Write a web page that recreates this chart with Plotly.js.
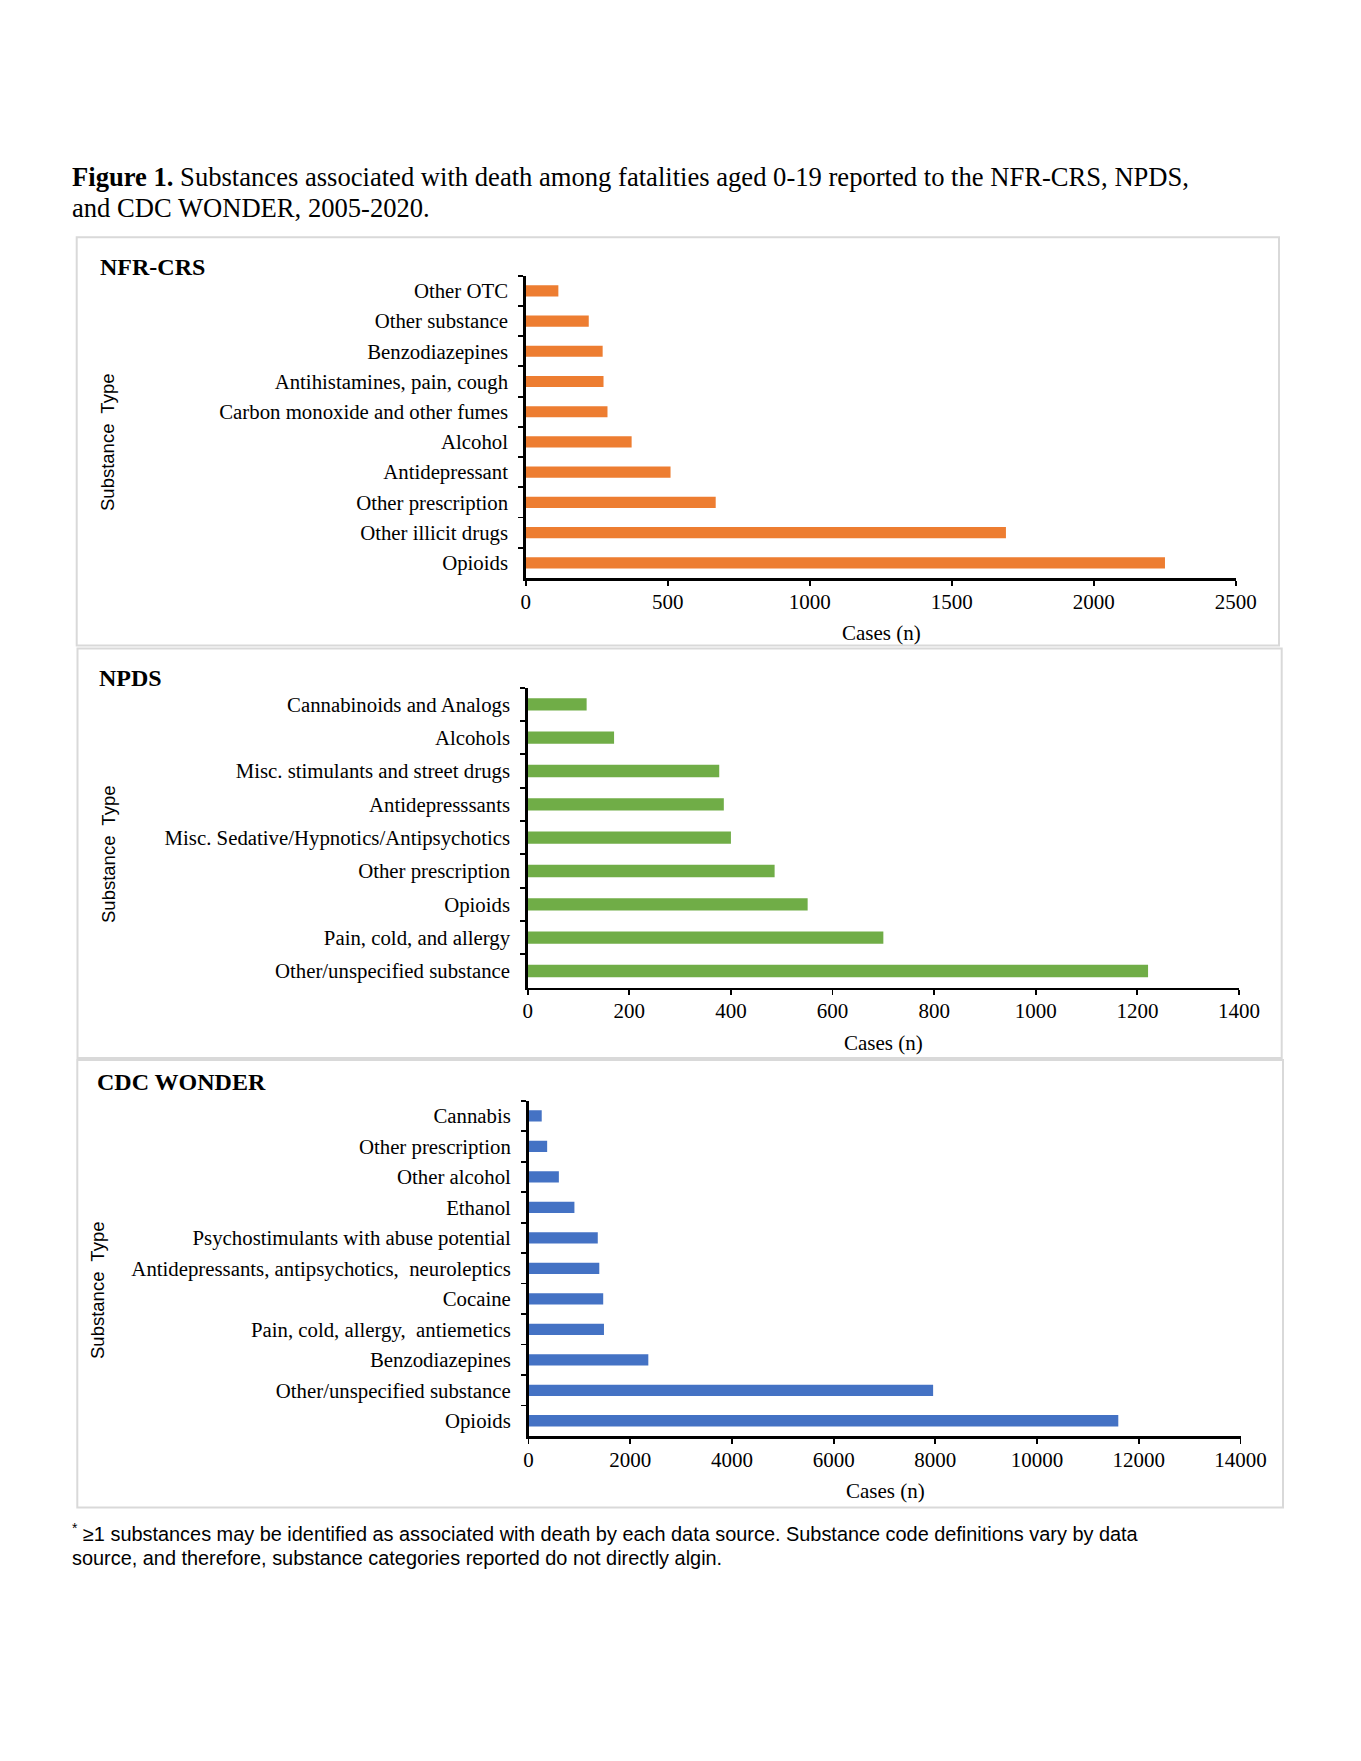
<!DOCTYPE html>
<html>
<head>
<meta charset="utf-8">
<script src="https://cdn.plot.ly/plotly-3.0.1.min.js"></script>
<style>
html,body{margin:0;padding:0;background:#fff;}
#chart{width:1361px;height:1761px;}
</style>
</head>
<body>
<div id="chart"></div>
<script>
// ---- Data ----
const nfrCategories = ["Other OTC","Other substance","Benzodiazepines","Antihistamines, pain, cough","Carbon monoxide and other fumes","Alcohol","Antidepressant","Other prescription","Other illicit drugs","Opioids"];
const nfrCases = [115,222,271,274,288,373,510,669,1691,2251];

const npdsCategories = ["Cannabinoids and Analogs","Alcohols","Misc. stimulants and street drugs","Antidepresssants","Misc. Sedative/Hypnotics/Antipsychotics","Other prescription","Opioids","Pain, cold, and allergy","Other/unspecified substance"];
const npdsCases = [116,170,377,386,400,486,551,700,1221];

const cdcCategories = ["Cannabis","Other prescription","Other alcohol","Ethanol","Psychostimulants with abuse potential","Antidepressants, antipsychotics,\u00a0 neuroleptics","Cocaine","Pain, cold, allergy,\u00a0 antiemetics","Benzodiazepines","Other/unspecified substance","Opioids"];
const cdcCases = [260,367,597,903,1362,1392,1469,1484,2356,7956,11597];

const panelTitles = ["NFR-CRS","NPDS","CDC WONDER"];
const xTitle = "Cases (n)";
const yTitle = "Substance\u00a0 Type";

// ---- Layout helpers ----
const W = 1361, H = 1761;
const px = x => x / W;
const py = y => 1 - y / H;
const serif = "Liberation Serif, Times New Roman, serif";
const sans = "Liberation Sans, Arial, sans-serif";

const traces = [
  {type:'bar', orientation:'h', x:nfrCases, y:nfrCategories, xaxis:'x', yaxis:'y', marker:{color:'#ED7D31'}, hoverinfo:'x+y'},
  {type:'bar', orientation:'h', x:npdsCases, y:npdsCategories, xaxis:'x2', yaxis:'y2', marker:{color:'#70AD47'}, hoverinfo:'x+y'},
  {type:'bar', orientation:'h', x:cdcCases, y:cdcCategories, xaxis:'x3', yaxis:'y3', marker:{color:'#4472C4'}, hoverinfo:'x+y'}
];

const panels = [
  {x0:525.7, x1:1235.7, y0:275.7, y1:578, max:2500, dtick:500, box:[76.7,237.3,1279,645.5], label:[98,267], ytitle:[108,443], xt:[881,633]},
  {x0:527.7, x1:1239, y0:687.7, y1:987.7, max:1400, dtick:200, box:[77.5,648.5,1281.7,1058], label:[97,678], ytitle:[108,855], xt:[883,1043]},
  {x0:528.5, x1:1240.5, y0:1100.7, y1:1436, max:14000, dtick:2000, box:[77.3,1060,1283,1507.5], label:[95,1082], ytitle:[97,1291], xt:[885,1491]}
];

const layout = {
  width: W, height: H,
  margin:{l:0,r:0,t:0,b:0},
  paper_bgcolor:'#ffffff', plot_bgcolor:'rgba(0,0,0,0)',
  showlegend:false,
  bargap:0.63,
  font:{family:serif, size:21, color:'#000'},
  shapes:[], annotations:[]
};

panels.forEach((p,i)=>{
  const s = i===0 ? '' : String(i+1);
  layout['xaxis'+s] = {
    domain:[px(p.x0), px(p.x1)],
    anchor:'y'+s,
    range:[0,p.max], dtick:p.dtick, tick0:0,
    tickformat:'d', exponentformat:'none',
    showgrid:false, zeroline:false,
    showline:true, linecolor:'#000', linewidth:2.5,
    ticks:'outside', ticklen:5, tickwidth:1.8, tickcolor:'#000',
    ticklabelstandoff:-2,
    tickfont:{family:serif, size:21, color:'#000'},
    fixedrange:true
  };
  layout['yaxis'+s] = {
    domain:[py(p.y1), py(p.y0)],
    anchor:'x'+s,
    type:'category',
    autorange:'reversed',
    showgrid:false, zeroline:false,
    showline:true, linecolor:'#000', linewidth:2.5,
    ticks:'outside', ticklen:5, tickwidth:1.8, tickcolor:'#000',
    tickson:'boundaries',
    ticklabelstandoff:11,
    tickfont:{family:serif, size:20.8, color:'#000'},
    fixedrange:true
  };
  layout.shapes.push({type:'rect', xref:'paper', yref:'paper',
    x0:px(p.box[0]), x1:px(p.box[2]), y0:py(p.box[1]), y1:py(p.box[3]),
    line:{color:'#d9d9d9', width:2}, fillcolor:'rgba(0,0,0,0)', layer:'below'});
  layout.annotations.push({xref:'paper', yref:'paper', x:px(p.label[0]), y:py(p.label[1]),
    xanchor:'left', yanchor:'middle', showarrow:false,
    text:'<b>'+panelTitles[i]+'</b>', font:{family:serif, size:24, color:'#000'}});
  layout.annotations.push({xref:'paper', yref:'paper', x:px(p.ytitle[0]), y:py(p.ytitle[1]),
    xanchor:'center', yanchor:'middle', showarrow:false, textangle:-90,
    text:yTitle, font:{family:sans, size:18.5, color:'#000'}});
  layout.annotations.push({xref:'paper', yref:'paper', x:px(p.xt[0]), y:py(p.xt[1]),
    xanchor:'center', yanchor:'middle', showarrow:false,
    text:xTitle, font:{family:serif, size:21, color:'#000'}});
});

// Figure title
layout.annotations.push({xref:'paper', yref:'paper', x:px(70), y:py(177), xanchor:'left', yanchor:'middle', showarrow:false,
  text:'<b>Figure 1.</b> Substances associated with death among fatalities aged 0-19 reported to the NFR-CRS, NPDS,',
  font:{family:serif, size:26.6, color:'#000'}});
layout.annotations.push({xref:'paper', yref:'paper', x:px(70), y:py(208), xanchor:'left', yanchor:'middle', showarrow:false,
  text:'and CDC WONDER, 2005-2020.',
  font:{family:serif, size:26.6, color:'#000'}});

// Footnote
layout.annotations.push({xref:'paper', yref:'paper', x:px(70), y:py(1532), xanchor:'left', yanchor:'middle', showarrow:false,
  text:'<sup>*</sup> ≥1 substances may be identified as associated with death by each data source. Substance code definitions vary by data',
  font:{family:sans, size:19.9, color:'#000'}});
layout.annotations.push({xref:'paper', yref:'paper', x:px(70), y:py(1558), xanchor:'left', yanchor:'middle', showarrow:false,
  text:'source, and therefore, substance categories reported do not directly algin.',
  font:{family:sans, size:19.9, color:'#000'}});

Plotly.newPlot('chart', traces, layout, {displayModeBar:false, staticPlot:true});
</script>
</body>
</html>
